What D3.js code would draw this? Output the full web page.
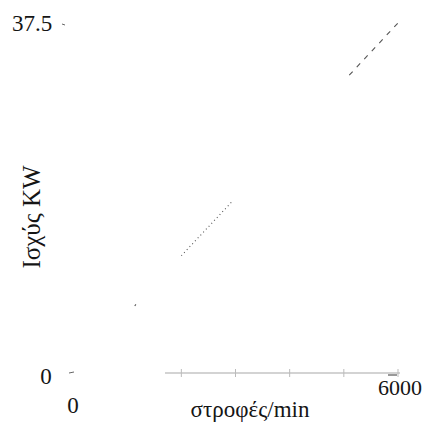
<!DOCTYPE html>
<html>
<head>
<meta charset="utf-8">
<script src="https://cdn.jsdelivr.net/npm/d3@7/dist/d3.min.js"></script>
<style>
  html, body { margin: 0; padding: 0; background: #fff; }
  svg { display: block; }
  text { font-family: "Liberation Serif", "DejaVu Serif", serif; fill: #151515; }
</style>
</head>
<body>
<svg id="chart" width="427" height="428"></svg>
<script>
// Engine speed (rpm) against power (kW), drawn in three broken pieces
const rpm     = [1140, 1175, 2000, 2950, 5100, 6030];
const powerKW = [7.2, 7.5, 12.6, 18.5, 32.0, 37.8];
const piece   = [0, 0, 1, 1, 2, 2];

const xTicks = [0, 1000, 2000, 3000, 4000, 5000, 6000];
const xTickLabels = ["0", "6000"];
const yTickLabels = ["0", "37.5"];

const svg = d3.select("#chart");

const x = d3.scaleLinear().domain([0, 6000]).range([73, 398]);
const y = d3.scaleLinear().domain([0, 37.5]).range([373, 24]);

// faint horizontal axis with small crossing ticks
svg.append("line")
  .attr("x1", 165).attr("x2", 400)
  .attr("y1", y(0)).attr("y2", y(0))
  .attr("stroke", "#c4c4c4").attr("stroke-width", 1.5);
svg.append("g").selectAll("line")
  .data(xTicks.filter(d => d >= 2000))
  .join("line")
  .attr("x1", d => x(d)).attr("x2", d => x(d))
  .attr("y1", y(0) - 4).attr("y2", y(0) + 4)
  .attr("stroke", "#bbb").attr("stroke-width", 1);
svg.append("line")
  .attr("x1", x(6000) - 10).attr("x2", x(6000) - 1)
  .attr("y1", y(0) + 2).attr("y2", y(0) + 2)
  .attr("stroke", "#555").attr("stroke-width", 1.2);

// y ticks
svg.append("line").attr("x1", 62).attr("x2", 65).attr("y1", y(37.5)).attr("y2", y(37.5) + 1)
  .attr("stroke", "#666").attr("stroke-width", 1);
svg.append("line").attr("x1", 69).attr("x2", 74).attr("y1", y(0)).attr("y2", y(0) - 1)
  .attr("stroke", "#666").attr("stroke-width", 1);

// tick labels
svg.append("text").attr("x", 32).attr("y", y(37.5) + 7)
  .attr("text-anchor", "middle").attr("font-size", 23).text(yTickLabels[1]);
svg.append("text").attr("x", 46).attr("y", y(0) + 11)
  .attr("text-anchor", "middle").attr("font-size", 23).text(yTickLabels[0]);
svg.append("text").attr("x", x(0)).attr("y", 413)
  .attr("text-anchor", "middle").attr("font-size", 23).text(xTickLabels[0]);
svg.append("text").attr("x", 400).attr("y", 395)
  .attr("text-anchor", "middle").attr("font-size", 22).text(xTickLabels[1]);

// axis titles
svg.append("text").attr("x", 250).attr("y", 417)
  .attr("text-anchor", "middle").attr("font-size", 23).text("στροφές/min");
svg.append("text")
  .attr("transform", "translate(40,217) rotate(-90)")
  .attr("text-anchor", "middle").attr("font-size", 25).text("Ισχύς KW");

// the power curve
const pts = rpm.map((r, i) => ({ r, p: powerKW[i], k: piece[i] }));
const groups = d3.groups(pts, d => d.k);
const line = d3.line().x(d => x(d.r)).y(d => y(d.p));
const dashes = ["2,2", "1,3", "5,6"];
svg.append("g").selectAll("path")
  .data(groups)
  .join("path")
  .attr("d", d => line(d[1]))
  .attr("fill", "none")
  .attr("stroke", "#555")
  .attr("stroke-width", 1.1)
  .attr("stroke-dasharray", d => dashes[d[0]]);
</script>
</body>
</html>
